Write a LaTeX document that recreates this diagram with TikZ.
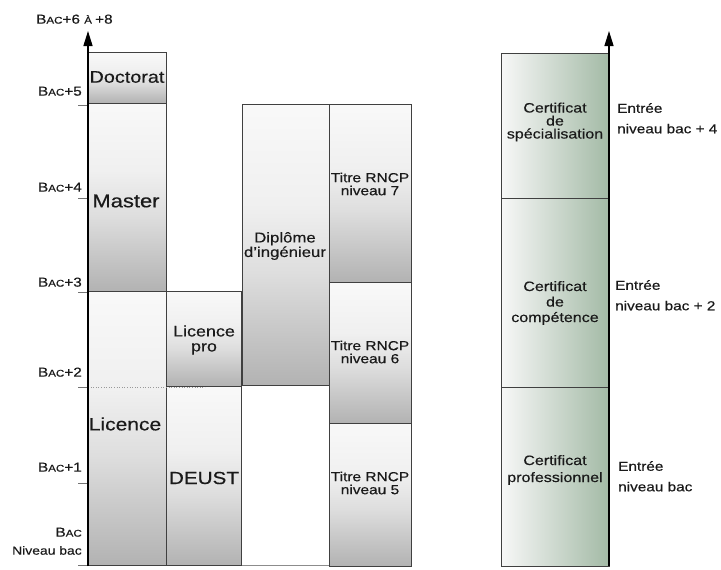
\documentclass[tikz,border=0pt]{standalone}
\usepackage{fontspec}
\setmainfont{Liberation Sans}[FakeStretch=1.18,FakeBold=0.4]
\usetikzlibrary{arrows.meta}
\definecolor{txt}{HTML}{1A1A1A}
\pgfdeclareverticalshading{greyfade}{100bp}{rgb(0bp)=(0.70,0.70,0.70); rgb(25bp)=(0.70,0.70,0.70); rgb(31bp)=(0.75,0.75,0.75); rgb(45bp)=(0.87,0.87,0.87); rgb(57bp)=(0.94,0.94,0.94); rgb(75bp)=(0.975,0.975,0.975); rgb(100bp)=(0.975,0.975,0.975)}
\pgfdeclarehorizontalshading{greenfade}{100bp}{rgb(0bp)=(0.97,0.97,0.97); rgb(25bp)=(0.97,0.97,0.97); rgb(75bp)=(0.64,0.73,0.65); rgb(100bp)=(0.64,0.73,0.65)}
\newcommand\fsz[2]{\fontsize{#1}{#2}\selectfont}
\newcommand\bacl[1]{\fsz{13}{13}B\fsz{9.8}{10}AC\fsz{13}{13}#1}
\begin{document}
\begin{tikzpicture}[x=1pt,y=-1pt,
  gbox/.style={draw=black!75, line width=0.8pt, shading=greyfade},
  cbox/.style={draw=black!75, line width=0.8pt, shading=greenfade},
  lbl/.style={text=txt, inner sep=0pt, align=center},
  axl/.style={text=txt, inner sep=0pt, anchor=mid east},
  ent/.style={text=txt, inner sep=0pt, align=left, anchor=north west, font=\fsz{13}{20.5}},
  tickm/.style={draw=black!55, line width=0.8pt},
  axisline/.style={draw=black, line width=1.4pt, -{Triangle[length=15pt,width=9pt]}}]
\useasboundingbox (0,0) rectangle (721,570);
% baseline
\draw[black!45, line width=0.6pt] (88,565.5) -- (411,565.5);
% column 1
\path[gbox] (88,52) rectangle (166,103);
\path[gbox] (88,103) rectangle (166,291);
\path[gbox] (88,291) rectangle (166,565);
% column 2
\path[gbox] (166,291) rectangle (241,386);
\path[gbox] (166,386) rectangle (241,565);
% column 3
\path[gbox] (242,104) rectangle (329,385);
% column 4
\path[gbox] (329,104) rectangle (411,282);
\path[gbox] (329,282) rectangle (411,423);
\path[gbox] (329,423) rectangle (411,566);
% right column
\path[cbox] (501,53) rectangle (609,198);
\path[cbox] (501,198) rectangle (609,387);
\path[cbox] (501,387) rectangle (609,566);
% dotted line
\draw[black!40, line width=0.6pt, dotted] (88,387) -- (205,387);
% ticks
\foreach \yy in {105,198,292,387,483,565} \draw[tickm] (78,\yy) -- (88,\yy);
% axes
\coordinate (la0) at (88,566);
\coordinate (la1) at (88,31);
\coordinate (ra0) at (609,566);
\coordinate (ra1) at (609,31);
\draw[axisline] (la0) -- (la1);
\draw[axisline] (ra0) -- (ra1);
% axis labels
\node[text=txt, inner sep=0pt, anchor=mid west] (l68) at (36,21) {\fsz{13}{13}B\fsz{9.8}{10}AC\fsz{13}{13}+6 \fsz{9.8}{10}À \fsz{13}{13}+8};
\node[axl] (l5) at (82,93) {\bacl{+5}};
\node[axl] (l4) at (82,189) {\bacl{+4}};
\node[axl] (l3) at (82,284) {\bacl{+3}};
\node[axl] (l2) at (82,374) {\bacl{+2}};
\node[axl] (l1) at (82,469) {\bacl{+1}};
\node[axl] (l0) at (82,534) {\bacl{}};
\node[axl] (lnb) at (82,552) {\fsz{11.8}{12}Niveau bac};
% box labels
\node[lbl, font=\fsz{16.8}{18}] (doc) at (127,77) {Doctorat};
\node[lbl, font=\fsz{18.6}{19}] (mas) at (126,201) {Master};
\node[lbl, font=\fsz{17.8}{19}] (lic) at (125,424) {Licence};
\node[lbl, font=\fsz{15.2}{15}] (lpro) at (204,340) {Licence\\pro};
\node[lbl, font=\fsz{17.5}{19}] (deust) at (204,478) {DEUST};
\node[lbl, font=\fsz{14.2}{14.5}] (ing) at (285,246) {Diplôme\\d’ingénieur};
\node[lbl, font=\fsz{13.1}{13}] (r7) at (370,184) {Titre RNCP\\niveau 7};
\node[lbl, font=\fsz{13.1}{13}] (r6) at (370,352) {Titre RNCP\\niveau 6};
\node[lbl, font=\fsz{13.1}{13}] (r5) at (370,483) {Titre RNCP\\niveau 5};
\node[lbl, font=\fsz{13.6}{13}] (cs) at (555,122) {Certificat\\de\\spécialisation};
\node[lbl, font=\fsz{13.6}{15.5}] (cc) at (555,303) {Certificat\\de\\compétence};
\node[lbl, font=\fsz{13.6}{17}] (cp) at (555,470) {Certificat\\professionnel};
% entry labels
\node[ent] (e4) at (617,103) {Entrée\\niveau bac + 4};
\node[ent] (e2) at (615,280) {Entrée\\niveau bac + 2};
\node[ent] (e0) at (618,461) {Entrée\\niveau bac};
\end{tikzpicture}
\end{document}
